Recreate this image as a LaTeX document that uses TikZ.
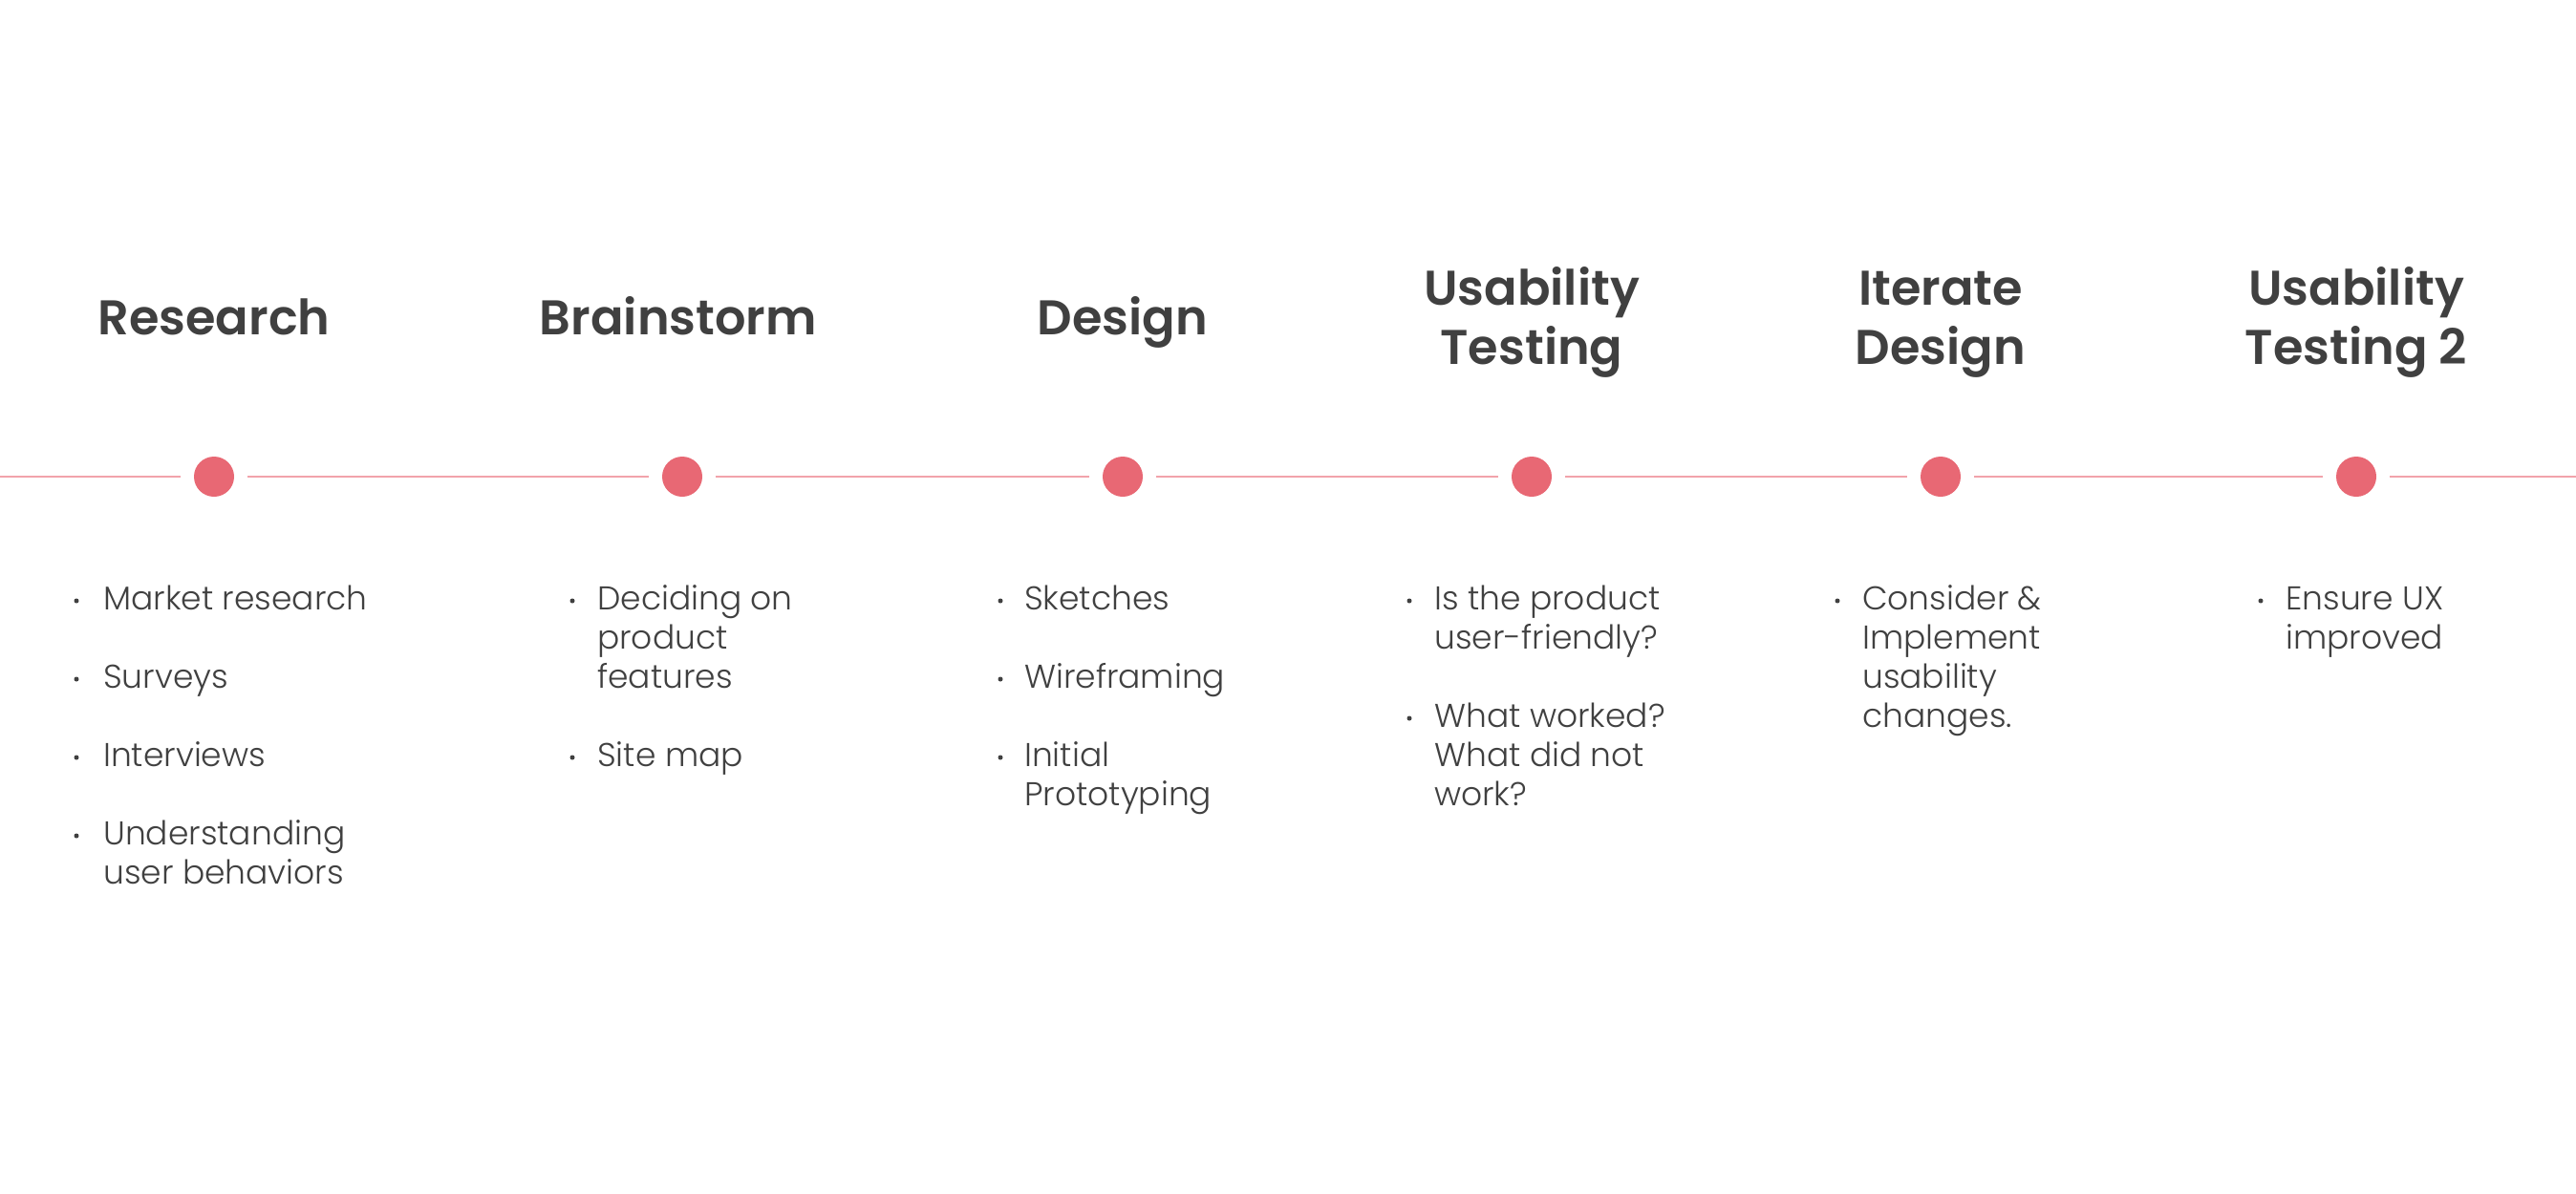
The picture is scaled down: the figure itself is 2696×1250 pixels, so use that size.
\documentclass[tikz,border=0pt]{standalone}
\usepackage{fontspec}
\setmainfont{Poppins}
\newfontfamily\headfont{Poppins SemiBold}
\newfontfamily\bodyfont{Poppins Light}
\definecolor{ink}{HTML}{404040}
\definecolor{dotred}{HTML}{E86874}
\definecolor{trackpink}{HTML}{F2A3AB}
\begin{document}
\begin{tikzpicture}[x=1pt,y=-1pt,
  title/.style={font=\headfont\fontsize{51}{62}\selectfont, text=ink, inner sep=0pt, anchor=base},
  body/.style={font=\bodyfont\fontsize{34.5}{41}\selectfont, text=ink, inner sep=0pt, anchor=base west},
  bullet/.style={circle, fill=ink, inner sep=0pt, minimum size=5pt},
  milestone/.style={circle, fill=dotred, inner sep=0pt, minimum size=42pt, outer sep=14pt},
  track/.style={draw=trackpink, line width=2pt}]
\fill[white] (0,0) rectangle (2696,1250);
\useasboundingbox (0,0) rectangle (2696,1250);

% timeline with milestones
\coordinate (L) at (0,499);
\coordinate (R) at (2696,499);
\node[milestone] (m1) at (224,499) {};
\node[milestone] (m2) at (714,499) {};
\node[milestone] (m3) at (1175,499) {};
\node[milestone] (m4) at (1603,499) {};
\node[milestone] (m5) at (2031,499) {};
\node[milestone] (m6) at (2466,499) {};
\draw[track] (L) -- (m1) -- (m2) -- (m3) -- (m4) -- (m5) -- (m6) -- (R);

% phase titles
\node[title] (t1) at (224,350) {Research};
\node[title] (t2) at (710,350) {Brainstorm};
\node[title] (t3) at (1175,350) {Design};
\node[title] (t4a) at (1603,319) {Usability};
\node[title] (t4b) at (1603,381) {Testing};
\node[title] (t5a) at (2031,319) {Iterate};
\node[title] (t5b) at (2031,381) {Design};
\node[title] (t6a) at (2466,319) {Usability};
\node[title] (t6b) at (2466,381) {Testing 2};

% Research
\node[bullet] (b1a) at (80,629) {};
\node[body] (c1a) at (108,638) {Market research};
\node[bullet] (b1b) at (80,711) {};
\node[body] (c1b) at (108,720) {Surveys};
\node[bullet] (b1c) at (80,793) {};
\node[body] (c1c) at (108,802) {Interviews};
\node[bullet] (b1d) at (80,875) {};
\node[body] (c1d) at (108,884) {Understanding};
\node[body] (c1e) at (108,925) {user behaviors};

% Brainstorm
\node[bullet] (b2a) at (599,629) {};
\node[body] (c2a) at (625,638) {Deciding on};
\node[body] (c2b) at (625,679) {product};
\node[body] (c2c) at (625,720) {features};
\node[bullet] (b2d) at (599,793) {};
\node[body] (c2d) at (625,802) {Site map};

% Design
\node[bullet] (b3a) at (1047,629) {};
\node[body] (c3a) at (1072,638) {Sketches};
\node[bullet] (b3b) at (1047,711) {};
\node[body] (c3b) at (1072,720) {Wireframing};
\node[bullet] (b3c) at (1047,793) {};
\node[body] (c3c) at (1072,802) {Initial};
\node[body] (c3d) at (1072,843) {Prototyping};

% Usability Testing
\node[bullet] (b4a) at (1475,629) {};
\node[body] (c4a) at (1501,638) {Is the product};
\node[body] (c4b) at (1501,679) {user-friendly?};
\node[bullet] (b4c) at (1475,752) {};
\node[body] (c4c) at (1501,761) {What worked?};
\node[body] (c4d) at (1501,802) {What did not};
\node[body] (c4e) at (1501,843) {work?};

% Iterate Design
\node[bullet] (b5a) at (1923,629) {};
\node[body] (c5a) at (1949,638) {Consider \&};
\node[body] (c5b) at (1949,679) {Implement};
\node[body] (c5c) at (1949,720) {usability};
\node[body] (c5d) at (1949,761) {changes.};

% Usability Testing 2
\node[bullet] (b6a) at (2366,629) {};
\node[body] (c6a) at (2392,638) {Ensure UX};
\node[body] (c6b) at (2392,679) {improved};
\end{tikzpicture}
\end{document}
